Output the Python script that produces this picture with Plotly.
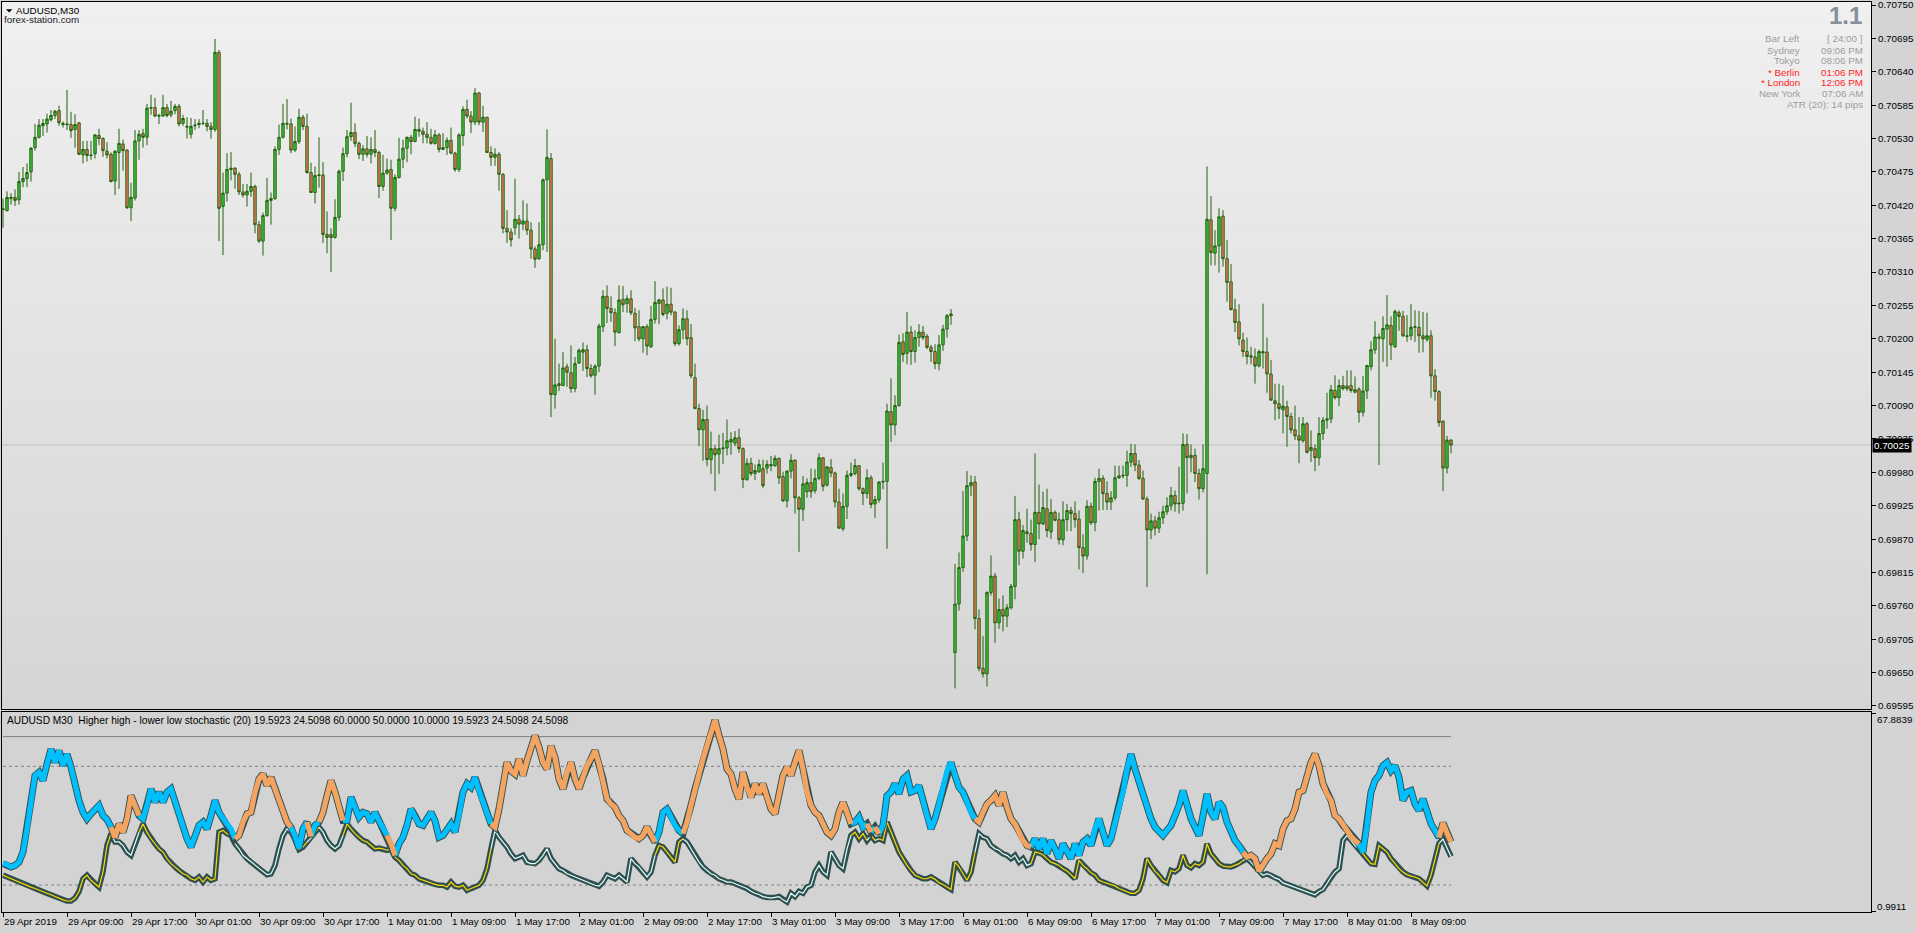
import plotly.graph_objects as go

# ---------------- data (prices in 1e-5 units) ----------------
open_pts = [
70413,70411,70431,70433,70429,70459,70464,70475,70515,70532,
70551,70554,70561,70568,70576,70555,70554,70553,70545,70556,
70503,70512,70503,70505,70535,70530,70509,70504,70460,70507,
70521,70511,70416,70432,70526,70538,70532,70580,70581,70568,
70567,70581,70569,70576,70583,70555,70550,70537,70551,70553,
70555,70555,70550,70545,70672,70418,70440,70479,70481,70471,
70442,70437,70443,70451,70388,70361,70403,70428,70431,70512,
70532,70555,70554,70511,70525,70565,70550,70474,70441,70469,
70470,70372,70372,70367,70400,70476,70505,70533,70540,70522,
70504,70513,70504,70512,70507,70451,70473,70479,70415,70466,
70496,70514,70532,70525,70545,70542,70537,70532,70522,70536,
70512,70515,70527,70506,70479,70535,70578,70567,70557,70605,
70557,70565,70507,70499,70504,70471,70382,70376,70383,70397,
70389,70394,70379,70348,70332,70355,70462,70497,70108,70126,
70123,70154,70144,70118,70160,70178,70182,70151,70140,70155,
70220,70270,70250,70243,70210,70265,70258,70266,70242,70220,
70200,70220,70187,70232,70258,70264,70242,70257,70244,70192,
70215,70233,70202,70136,70085,70050,70067,70001,70019,70010,
70019,70020,70034,70028,70037,70019,69968,69995,69978,69981,
69986,69987,69993,69991,70003,69973,69933,69982,70000,69938,
69919,69948,69963,69950,69970,70004,69959,69988,69979,69931,
69887,69924,69975,69978,69991,69953,69945,69971,69928,69935,
69964,69965,70080,70058,70090,70195,70176,70211,70179,70202,
70211,70204,70186,70179,70159,70190,70216,70238,69683,69763,
69823,69875,69958,69964,69739,69657,69648,69782,69809,69732,
69754,69743,69757,69792,69902,69850,69882,69879,69861,69914,
69895,69920,69882,69914,69902,69869,69902,69917,69912,69903,
69856,69842,69924,69897,69965,69970,69945,69931,69938,69971,
69974,69975,69997,70011,69992,69970,69936,69885,69900,69888,
69905,69915,69925,69942,69928,69929,70026,70004,70008,69978,
69953,69978,70396,70341,70353,70402,70332,70294,70248,70228,
70198,70179,70172,70170,70155,70179,70178,70142,70098,70093,
70083,70088,70072,70050,70040,70032,70060,70016,70019,70004,
70044,70066,70068,70115,70103,70123,70118,70123,70112,70117,
70079,70114,70154,70182,70203,70200,70216,70222,70187,70243,
70237,70205,70205,70219,70219,70205,70199,70205,70139,70113,
70064,69987,70033]

high_pts = [
70431,70443,70440,70446,70475,70483,70489,70516,70554,70562,
70562,70571,70577,70577,70584,70558,70610,70574,70570,70557,
70526,70526,70526,70537,70546,70532,70524,70507,70511,70546,
70528,70512,70457,70544,70544,70546,70587,70602,70597,70571,
70602,70587,70592,70587,70587,70569,70565,70564,70562,70562,
70577,70562,70557,70694,70676,70474,70506,70508,70483,70475,
70455,70455,70474,70454,70394,70408,70465,70441,70517,70553,
70587,70595,70563,70550,70579,70569,70571,70490,70484,70532,
70491,70410,70382,70430,70479,70515,70544,70589,70555,70525,
70519,70534,70532,70544,70510,70503,70497,70495,70471,70531,
70528,70533,70536,70566,70563,70548,70557,70546,70544,70539,
70539,70532,70548,70508,70539,70583,70594,70575,70613,70607,
70584,70566,70517,70514,70508,70473,70412,70382,70464,70404,
70428,70423,70392,70352,70392,70464,70545,70506,70200,70159,
70178,70159,70189,70170,70184,70194,70190,70158,70158,70225,
70280,70288,70270,70250,70288,70287,70272,70280,70251,70247,
70221,70224,70254,70295,70266,70283,70286,70284,70246,70222,
70250,70247,70224,70159,70093,70083,70090,70047,70025,70042,
70045,70067,70046,70048,70052,70021,70003,70004,69993,70001,
70001,70000,70007,70008,70004,69981,69983,70010,70001,69941,
69974,69970,69986,69985,70011,70005,69990,70002,69981,69953,
69945,69983,69996,70002,69992,69955,69985,69975,69941,69965,
69996,70093,70135,70107,70207,70209,70244,70221,70214,70224,
70221,70208,70190,70191,70206,70223,70241,70249,69829,69848,
69949,69982,69975,69974,69754,69710,69784,69843,69814,69772,
69777,69763,69796,69941,69915,69893,69920,69902,70011,69960,
69948,69953,69936,69917,69914,69932,69928,69923,69932,69917,
69878,69934,69930,69971,69986,69975,69965,69949,69991,69991,
69991,70016,70027,70026,70000,69983,69940,69912,69908,69915,
69925,69939,69956,69950,69989,70044,70043,70026,70019,69986,
70026,70484,70435,70379,70415,70412,70363,70323,70266,70257,
70210,70202,70187,70184,70182,70258,70202,70165,70126,70126,
70123,70098,70078,70090,70071,70071,70063,70049,70026,70071,
70071,70111,70124,70140,70133,70139,70148,70148,70138,70120,
70139,70157,70196,70229,70209,70237,70272,70237,70248,70247,
70246,70239,70257,70247,70246,70244,70243,70214,70150,70115,
70066,70040,70035]

low_pts = [
70383,70410,70421,70419,70421,70450,70450,70459,70510,70530,
70534,70540,70558,70562,70551,70548,70544,70531,70515,70503,
70489,70492,70495,70497,70519,70500,70497,70458,70437,70447,
70477,70414,70394,70428,70495,70515,70519,70569,70565,70554,
70566,70565,70565,70570,70550,70551,70530,70530,70544,70547,
70552,70542,70530,70541,70361,70338,70426,70461,70447,70437,
70433,70418,70434,70374,70358,70337,70401,70388,70429,70503,
70530,70545,70506,70508,70521,70544,70472,70440,70423,70449,
70358,70341,70310,70365,70394,70460,70499,70526,70516,70496,
70493,70499,70489,70499,70432,70444,70470,70363,70410,70464,
70481,70491,70504,70524,70533,70522,70522,70520,70520,70507,
70511,70503,70504,70475,70475,70518,70563,70539,70552,70552,
70541,70506,70485,70485,70444,70374,70358,70352,70371,70365,
70379,70371,70332,70317,70330,70346,70343,70071,70085,70114,
70122,70121,70111,70112,70159,70147,70137,70136,70108,70145,
70211,70226,70228,70188,70209,70244,70243,70239,70196,70196,
70177,70173,70185,70225,70224,70237,70232,70239,70188,70189,
70199,70189,70135,70084,70023,69999,69990,69977,69949,69977,
69994,70008,70009,70023,70012,69954,69966,69974,69967,69979,
69954,69978,69982,69989,69961,69931,69922,69970,69912,69849,
69900,69938,69938,69945,69967,69949,69956,69972,69922,69887,
69883,69903,69972,69975,69950,69926,69937,69921,69905,69930,
69952,69854,70030,70041,70088,70162,70158,70157,70161,70187,
70198,70183,70162,70150,70148,70180,70202,70223,69624,69752,
69816,69867,69941,69721,69652,69642,69627,69777,69699,69722,
69718,69725,69754,69771,69827,69838,69864,69851,69832,69870,
69893,69873,69870,69899,69861,69860,69883,69883,69889,69820,
69814,69836,69893,69883,69917,69918,69918,69918,69934,69969,
69970,69956,69989,69982,69967,69935,69791,69870,69876,69880,
69895,69910,69917,69915,69912,69917,69945,69980,69964,69935,
69947,69812,70321,70321,70309,70319,70261,70247,70211,70189,
70170,70158,70158,70126,70153,70151,70111,70098,70066,70068,
70044,70022,70044,70033,69995,70029,70011,69997,69982,69991,
70033,70052,70061,70100,70089,70115,70114,70111,70110,70062,
70072,70101,70148,70175,69992,70162,70154,70165,70185,70213,
70203,70195,70198,70195,70177,70178,70195,70103,70098,70055,
69949,69978,70011]

close_pts = [
70414,70433,70433,70428,70459,70464,70474,70514,70532,70552,
70555,70562,70568,70575,70556,70553,70553,70543,70553,70504,
70512,70502,70502,70536,70530,70510,70503,70459,70509,70522,
70510,70416,70433,70526,70537,70532,70580,70581,70567,70567,
70581,70568,70575,70583,70554,70563,70549,70550,70552,70555,
70555,70550,70545,70672,70415,70440,70479,70481,70471,70442,
70437,70443,70451,70388,70361,70403,70428,70431,70512,70532,
70555,70554,70511,70525,70565,70550,70474,70441,70469,70470,
70372,70367,70367,70400,70476,70505,70533,70540,70522,70504,
70513,70504,70512,70507,70451,70473,70478,70415,70466,70496,
70514,70532,70525,70545,70542,70537,70532,70522,70536,70512,
70515,70527,70506,70479,70536,70578,70567,70557,70605,70557,
70565,70507,70499,70504,70471,70382,70376,70363,70397,70389,
70394,70379,70348,70331,70355,70462,70499,70108,70124,70123,
70152,70145,70118,70159,70181,70182,70151,70139,70155,70221,
70270,70250,70243,70211,70264,70256,70266,70243,70218,70200,
70220,70188,70232,70260,70264,70240,70257,70244,70192,70215,
70233,70200,70139,70085,70050,70067,70001,70019,70009,70019,
70020,70032,70030,70037,70019,69968,69995,69978,69983,69993,
69958,69993,69991,70003,69971,69933,69982,70000,69938,69919,
69961,69963,69948,69970,70004,69957,69989,69979,69931,69888,
69924,69975,69978,69991,69953,69945,69971,69927,69935,69964,
69965,70081,70058,70090,70194,70174,70211,70179,70202,70211,
70202,70186,70179,70159,70190,70216,70238,70241,69763,69823,
69875,69958,69963,69739,69657,69648,69782,69809,69732,69754,
69743,69757,69792,69902,69850,69884,69879,69861,69914,69895,
69922,69884,69914,69901,69869,69902,69917,69912,69902,69856,
69842,69924,69897,69965,69970,69945,69931,69938,69971,69974,
69975,69997,70011,69992,69970,69936,69885,69900,69888,69905,
69915,69925,69942,69928,69929,70026,70004,70008,69978,69953,
69986,70397,70342,70353,70401,70332,70293,70248,70227,70200,
70179,70171,70170,70155,70179,70177,70142,70099,70093,70085,
70089,70072,70050,70040,70033,70060,70013,70021,70004,70044,
70066,70068,70116,70103,70123,70118,70122,70115,70116,70079,
70114,70156,70182,70203,70201,70217,70223,70190,70245,70237,
70205,70204,70219,70220,70205,70200,70205,70139,70113,70062,
69987,70033,70025]

# higher-high stochastic (blue when on top, light inner when below)
hh_stoch = [
17.2,16.9,16.1,16.6,17.7,21.1,28.9,39.0,46.9,48.0,
45.2,50.8,55.8,51.3,55.3,50.2,54.1,49.7,43.5,38.5,
34.5,32.3,34.0,35.6,36.8,33.4,32.1,29.5,24.5,24.5,
23.3,21.1,20.0,23.9,27.8,32.3,36.8,42.4,37.9,41.3,
37.9,41.3,42.4,37.9,34.5,30.1,25.6,22.8,26.7,30.1,
31.2,28.9,33.4,38.5,34.5,32.3,30.6,28.9,25.6,22.2,
20.0,18.9,17.7,16.6,15.5,14.4,13.5,13.8,16.6,22.2,
26.7,28.9,27.8,26.5,22.4,28.9,31.2,25.8,30.1,31.2,
27.8,25.0,23.3,22.2,23.3,26.7,31.7,39.6,36.2,32.9,
34.5,34.0,31.2,34.5,31.7,28.9,26.7,22.2,19.4,23.9,
26.1,30.1,35.6,33.4,30.6,30.1,32.3,34.5,31.7,26.1,
26.7,28.9,30.6,27.8,33.4,41.3,44.1,42.9,46.3,41.8,
37.9,34.5,30.6,28.4,26.1,24.5,22.8,20.5,18.9,19.4,
20.0,17.7,17.2,17.2,18.3,20.0,22.2,18.9,17.2,15.5,
14.9,13.8,13.3,12.7,12.1,11.6,11.0,10.5,9.9,9.6,
11.0,13.3,12.7,12.1,13.3,12.1,11.0,18.9,17.2,16.1,
14.4,12.7,14.4,20.0,27.8,34.5,35.6,32.9,30.1,28.4,
27.3,24.5,22.2,20.0,17.7,16.1,14.9,13.8,13.3,12.1,
11.6,11.0,11.0,10.5,9.9,9.3,8.8,7.9,7.2,6.8,
6.1,5.8,5.6,5.8,6.1,5.0,4.3,7.2,6.1,7.8,
7.2,9.3,9.9,14.4,16.6,14.4,13.3,21.1,18.9,16.6,
15.5,22.2,26.7,31.2,32.9,29.5,30.6,26.7,29.5,25.6,
30.1,40.1,41.3,44.1,40.7,45.7,46.9,41.3,41.8,43.5,
37.9,33.4,28.9,32.3,37.3,43.5,48.5,51.3,46.9,42.9,
41.3,37.9,34.5,32.3,27.3,26.1,25.6,23.3,22.2,21.7,
20.5,20.0,18.9,20.0,17.7,18.9,16.6,17.2,25.6,22.2,
25.6,20.5,25.0,22.2,18.9,23.9,21.1,18.9,23.9,20.0,
24.5,25.6,23.3,28.9,32.3,27.8,23.3,25.6,31.2,35.6,
41.3,49.1,54.1,49.1,44.6,40.1,35.6,32.3,29.5,27.8,
26.7,28.4,30.1,33.4,36.8,41.8,36.8,32.3,29.5,26.7,
33.4,40.7,34.5,32.3,37.9,36.2,31.2,27.8,25.0,23.3,
21.1,18.9,17.7,16.1,14.4,13.3,13.8,13.3,12.4,11.9,
10.7,10.2,9.7,9.3,8.8,8.2,7.8,7.2,6.7,7.8,
8.5,10.5,12.7,14.4,15.5,25.0,26.7,25.0,23.3,22.2,
21.1,30.1,41.3,45.2,46.9,50.2,51.3,48.5,50.2,46.3,
38.5,41.3,41.8,37.3,35.1,39.0,34.0,30.6,28.4,26.0,
25.5,22.5,19.5923]

# lower-low stochastic (orange when on top, yellow inner when below)
ll_stoch = [
13.3,12.7,12.1,11.6,11.0,10.5,9.9,9.3,8.8,8.2,
7.8,7.2,6.7,6.1,5.6,5.0,4.6,4.6,5.6,7.8,
12.1,13.3,11.6,10.5,9.3,14.4,23.3,27.3,26.0,30.6,
27.8,32.3,40.1,36.8,33.4,30.6,27.8,25.6,23.9,22.2,
21.1,18.9,17.2,16.1,14.9,13.8,13.3,12.1,11.6,12.7,
11.0,12.7,11.6,12.1,27.8,28.4,27.3,26.7,23.9,26.7,
31.2,34.0,34.5,41.3,45.7,47.4,43.5,46.3,42.4,39.0,
34.5,31.2,29.5,25.8,22.0,22.8,24.5,26.4,27.8,29.5,
34.5,40.1,45.2,41.3,35.6,31.7,30.6,28.9,27.3,26.1,
25.0,24.5,23.3,22.2,22.4,22.2,21.7,23.9,20.0,18.3,
16.6,15.5,13.8,13.3,12.1,11.6,11.0,10.5,10.2,9.9,
9.9,9.3,11.0,9.6,9.3,9.9,8.2,8.8,9.3,9.9,
11.6,15.5,22.2,29.5,35.6,42.4,51.3,48.5,47.4,52.5,
46.9,51.9,56.4,60.3,56.4,51.3,49.1,56.9,53.0,45.7,
42.4,48.0,51.3,45.7,42.4,46.3,50.2,52.5,55.3,50.8,
45.7,39.0,37.3,36.2,33.4,31.7,28.4,27.3,26.1,25.6,
26.7,29.5,26.7,24.5,23.3,22.8,21.1,19.4,17.7,24.5,
25.6,31.2,36.8,42.4,46.9,52.5,56.9,61.4,65.6,60.3,
55.8,49.1,47.4,42.4,39.0,48.0,42.9,39.6,44.1,40.7,
44.1,39.6,35.6,34.0,39.6,46.9,49.7,46.9,51.3,55.3,
49.1,41.3,36.8,34.5,33.4,30.6,27.8,26.7,28.9,34.5,
37.9,34.5,30.6,27.8,25.6,27.3,25.0,27.8,25.0,27.3,
25.0,31.2,27.8,24.5,21.1,18.9,16.6,14.9,13.3,12.7,
12.1,12.1,12.7,11.9,10.8,10.2,9.3,8.5,17.7,16.1,
13.8,11.6,14.4,21.1,31.2,34.5,37.3,38.5,40.1,36.8,
41.3,36.2,32.3,30.6,27.8,25.0,23.3,22.8,21.1,20.8,
20.2,18.9,17.7,17.2,16.6,15.5,14.7,13.5,12.1,18.3,
16.6,15.5,14.1,13.3,11.6,11.0,10.6,10.2,9.7,8.8,
8.2,7.8,7.2,7.2,8.2,12.1,18.9,16.6,14.7,13.3,
11.6,10.8,14.9,14.4,15.5,20.0,16.6,15.8,17.2,16.6,
17.7,23.9,20.5,18.9,17.2,16.4,16.1,16.1,16.6,17.2,
18.3,19.4,20.0,18.9,14.7,17.2,18.9,20.5,23.9,23.3,
28.9,31.7,32.3,35.6,41.3,41.8,47.4,51.3,54.1,50.2,
44.1,40.7,38.5,33.4,32.3,30.1,28.4,26.4,25.0,23.9,
20.5,18.9,17.2,17.0,23.3,22.2,21.1,18.9,17.2,15.5,
14.4,13.5,13.0,12.7,12.1,11.0,9.7,13.3,18.9,24.0,
30.9,27.5,24.5098]

level_values = [60.0, 50.0, 10.0]
stoch_min, stoch_max = 0.9911, 67.8839

price_ticks = [0.70750, 0.70695, 0.70640, 0.70585, 0.70530, 0.70475, 0.70420,
               0.70365, 0.70310, 0.70255, 0.70200, 0.70145, 0.70090, 0.70035,
               0.69980, 0.69925, 0.69870, 0.69815, 0.69760, 0.69705, 0.69650,
               0.69595]

time_labels = ["29 Apr 2019", "29 Apr 09:00", "29 Apr 17:00", "30 Apr 01:00",
               "30 Apr 09:00", "30 Apr 17:00", "1 May 01:00", "1 May 09:00",
               "1 May 17:00", "2 May 01:00", "2 May 09:00", "2 May 17:00",
               "3 May 01:00", "3 May 09:00", "3 May 17:00", "6 May 01:00",
               "6 May 09:00", "6 May 17:00", "7 May 01:00", "7 May 09:00",
               "7 May 17:00", "8 May 01:00", "8 May 09:00"]
BARS_PER_LABEL = 16  # 8 hours of M30 bars

info_rows = [("Bar Left", "[ 24:00 ]", False), ("Sydney", "09:06 PM", False),
             ("Tokyo", "08:06 PM", False), ("* Berlin", "01:06 PM", True),
             ("* London", "12:06 PM", True), ("New York", "07:06 AM", False)]
atr_text = "ATR (20): 14 pips"
spread_text = "1.1"

# ---------------- derived ----------------
n = len(close_pts)
bars = list(range(n))
opens = [v / 1e5 for v in open_pts]
highs = [v / 1e5 for v in high_pts]
lows = [v / 1e5 for v in low_pts]
closes = [v / 1e5 for v in close_pts]
bid = closes[-1]

upper = [max(a, b) for a, b in zip(hh_stoch, ll_stoch)]
lower = [min(a, b) for a, b in zip(hh_stoch, ll_stoch)]
hh_top = [a >= b for a, b in zip(hh_stoch, ll_stoch)]
seg_hh = [hh_top[k + 1] for k in range(n - 1)]


def runs(ys, mask):
    ox, oy = [], []
    k = 0
    while k < n - 1:
        if mask[k]:
            s = k
            while k < n - 1 and mask[k]:
                k += 1
            ox += bars[s:k + 1] + [None]
            oy += ys[s:k + 1] + [None]
        else:
            k += 1
    return ox, oy


# ---------------- geometry (pixels of 1916x933 canvas) ----------------
W, H = 1916, 933
X0, X1 = 2, 1871
MAIN_T, MAIN_B = 2, 709
SUB_T, SUB_B = 712, 912


def px(x):
    return x / W


def py(y):
    return 1 - y / H


FONT = "Liberation Sans, Arial, sans-serif"
FS = 9.8
WICK = "#24600F"
BULL = "#3CC83A"
BEAR = "#F07A58"
DARK = "#2F4F4F"
BLUE = "#00BFFF"
ORANGE = "#F4A460"
YELLOW = "#FFD700"
LIGHT = "#E0FFFF"

fig = go.Figure()

fig.add_trace(go.Candlestick(
    x=bars, open=opens, high=highs, low=lows, close=closes,
    xaxis="x", yaxis="y", showlegend=False, hoverinfo="skip",
    increasing=dict(line=dict(color=WICK, width=1), fillcolor=BULL),
    decreasing=dict(line=dict(color=WICK, width=1), fillcolor=BEAR),
    whiskerwidth=0))

# level lines of the indicator
for lv in level_values:
    fig.add_trace(go.Scatter(
        x=[bars[0], bars[-1]], y=[lv, lv], mode="lines", xaxis="x2", yaxis="y2",
        line=dict(color="#808080", width=1, dash=None if lv == level_values[0] else "3px,3px"),
        showlegend=False, hoverinfo="skip"))

# lower envelope: dark thick + thin inner
fig.add_trace(go.Scatter(x=bars, y=lower, mode="lines", xaxis="x2", yaxis="y2",
                         line=dict(color=DARK, width=5.6), showlegend=False, hoverinfo="skip"))
lx, ly = runs(lower, seg_hh)
fig.add_trace(go.Scatter(x=lx, y=ly, mode="lines", xaxis="x2", yaxis="y2",
                         line=dict(color=YELLOW, width=1.2), showlegend=False, hoverinfo="skip"))
lx, ly = runs(lower, [not s for s in seg_hh])
fig.add_trace(go.Scatter(x=lx, y=ly, mode="lines", xaxis="x2", yaxis="y2",
                         line=dict(color=LIGHT, width=1.2), showlegend=False, hoverinfo="skip"))

# upper envelope: dark outline + colour
fig.add_trace(go.Scatter(x=bars, y=upper, mode="lines", xaxis="x2", yaxis="y2",
                         line=dict(color=DARK, width=7.0), showlegend=False, hoverinfo="skip"))
ux, uy = runs(upper, seg_hh)
fig.add_trace(go.Scatter(x=ux, y=uy, mode="lines", xaxis="x2", yaxis="y2",
                         line=dict(color=BLUE, width=5.2), showlegend=False, hoverinfo="skip"))
ux, uy = runs(upper, [not s for s in seg_hh])
fig.add_trace(go.Scatter(x=ux, y=uy, mode="lines", xaxis="x2", yaxis="y2",
                         line=dict(color=ORANGE, width=5.2), showlegend=False, hoverinfo="skip"))

# ---------------- shapes ----------------
shapes = []
# gradient background of the price window
NB = 70
c_top, c_bot = (240, 240, 240), (213, 213, 213)
for k in range(NB):
    t = (k + 0.5) / NB
    col = tuple(round(c_top[j] + (c_bot[j] - c_top[j]) * t) for j in range(3))
    ya = MAIN_T + (MAIN_B - MAIN_T) * k / NB
    yb = MAIN_T + (MAIN_B - MAIN_T) * (k + 1) / NB + 0.6
    shapes.append(dict(type="rect", xref="paper", yref="paper", layer="below",
                       x0=px(X0), x1=px(X1), y0=py(min(yb, MAIN_B)), y1=py(ya),
                       line=dict(width=0), fillcolor="rgb(%d,%d,%d)" % col))
# bid line
shapes.append(dict(type="line", xref="paper", yref="y", layer="below",
                   x0=px(X0), x1=px(X1), y0=bid, y1=bid,
                   line=dict(color="#C0C0C0", width=1)))
# small triangle near symbol name
shapes.append(dict(type="path", xref="paper", yref="paper",
                   path="M %f,%f L %f,%f L %f,%f Z" % (px(6), py(9.2), px(12.4), py(9.2), px(9.2), py(12.6)),
                   fillcolor="black", line=dict(width=0)))

# ---------------- annotations ----------------
ann = []


def text(x, y, s, color="black", size=FS, anchor="left", bold=False, **kw):
    ann.append(dict(x=px(x), y=py(y), xref="paper", yref="paper", text=("<b>%s</b>" % s) if bold else s,
                    showarrow=False, xanchor=anchor, yanchor="middle",
                    font=dict(family=FONT, size=size, color=color), **kw))


text(14, 10.5, "AUDUSD,M30")
text(2, 19.5, "forex-station.com", color="#1A1A2A")
header = "AUDUSD M30  Higher high - lower low stochastic (20) %.4f %.4f %.4f %.4f %.4f %.4f %.4f %.4f" % (
    hh_stoch[-1], ll_stoch[-1], level_values[0], level_values[1], level_values[2],
    hh_stoch[-1], ll_stoch[-1], ll_stoch[-1])
text(5, 720, header, size=10.2)
text(1864, 15.5, spread_text, color="#86909C", size=24, anchor="right", bold=True)
row_y = [38.7, 50, 61, 72, 82.7, 93.7]
for (lab, val, red), yy in zip(info_rows, row_y):
    c = "#FF2222" if red else "#9C9C9C"
    text(1802, yy, lab, color=c, anchor="right")
    text(1865, yy, val, color=c, anchor="right")
text(1865, 105, atr_text, color="#9C9C9C", anchor="right")
text(1875, 719, "%.4f" % stoch_max)
text(1875, 906, "%.4f" % stoch_min)
ann.append(dict(x=px(1872), y=bid, xref="paper", yref="y", text="%.5f" % bid,
                showarrow=False, xanchor="left", yanchor="middle", bgcolor="black",
                borderpad=1, font=dict(family=FONT, size=FS, color="white")))

axis_common = dict(showgrid=False, zeroline=False, showline=True, mirror=True,
                   linecolor="black", linewidth=1, automargin=False)

# main price scale range (pixel -> price of the reference)
slope = 0.00055 / 33.38
y_top = price_ticks[0] + (5 - MAIN_T) * slope
y_bot = price_ticks[0] - (MAIN_B - 5) * slope
# indicator range
sub_slope = 40.0 / (885.0 - 766.3)
s_top = 50 + (766.3 - SUB_T) * sub_slope
s_bot = 50 - (SUB_B - 766.3) * sub_slope

x_lo = -0.25
x_hi = x_lo + (X1 - X0) / 4.0

fig.update_layout(
    width=W, height=H, autosize=False,
    margin=dict(l=0, r=0, t=0, b=0, autoexpand=False),
    paper_bgcolor="#D4D4D4", plot_bgcolor="#D3D3D3",
    font=dict(family=FONT, size=FS, color="black"),
    showlegend=False, hovermode=False, boxgap=0.15,
    shapes=shapes, annotations=ann,
    xaxis=dict(domain=[px(X0), px(X1)], range=[x_lo, x_hi], anchor="y",
               showticklabels=False, ticks="", rangeslider=dict(visible=False), **axis_common),
    yaxis=dict(domain=[py(MAIN_B), py(MAIN_T)], range=[y_bot, y_top], anchor="x", side="right",
               tickvals=price_ticks, ticktext=["%.5f" % v for v in price_ticks],
               ticks="outside", ticklen=4, tickcolor="black", ticklabeloverflow="allow",
               tickfont=dict(family=FONT, size=FS, color="black"), **axis_common),
    xaxis2=dict(domain=[px(X0), px(X1)], range=[x_lo, x_hi], anchor="y2",
                tickvals=[k * BARS_PER_LABEL for k in range(len(time_labels))], ticktext=time_labels,
                ticks="outside", ticklen=4, tickcolor="black", ticklabelposition="outside right",
                ticklabeloverflow="allow",
                tickangle=0, tickfont=dict(family=FONT, size=FS, color="black"), **axis_common),
    yaxis2=dict(domain=[py(SUB_B), py(SUB_T)], range=[s_bot, s_top], anchor="x2", side="right",
                tickvals=[stoch_max, stoch_min], showticklabels=False, ticks="outside",
                ticklen=4, tickcolor="black", **axis_common),
)

fig.write_html("out.html", config={"displayModeBar": False},
               post_script="document.body.style.margin='0px';document.body.style.overflow='hidden';")
